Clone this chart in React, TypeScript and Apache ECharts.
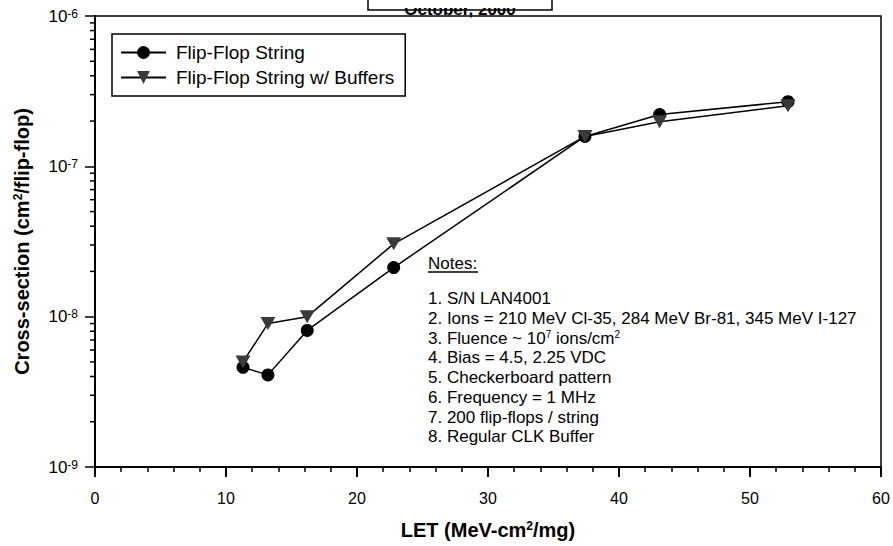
import React, { useEffect, useRef } from "react";
import * as echarts from "echarts";

// ---- data ----
const letValues = [11.3, 13.2, 16.2, 22.8, 37.4, 43.1, 52.9];
const ffString = [4.6e-9, 4.1e-9, 8.1e-9, 2.12e-8, 1.58e-7, 2.21e-7, 2.69e-7];
const ffBuffers = [5.0e-9, 9.0e-9, 1.0e-8, 3.05e-8, 1.58e-7, 1.98e-7, 2.53e-7];
const seriesNames = ["Flip-Flop String", "Flip-Flop String w/ Buffers"];
const xMin = 0;
const xMax = 60;
const xInterval = 10;
const yMin = 1e-9;
const yMax = 1e-6;
const yDecades = [1e-9, 1e-8, 1e-7];
const yMinorSteps = [2, 3, 4, 5, 6, 7, 8, 9];
const titleText = "October, 2000";
const notesTitle = "Notes:";
const notesLines = [
  "1. S/N LAN4001",
  "2. Ions = 210 MeV Cl-35, 284 MeV Br-81, 345 MeV I-127",
  "3. Fluence ~ 10{sup|7} ions/cm{sup|2}",
  "4. Bias = 4.5, 2.25 VDC",
  "5. Checkerboard pattern",
  "6. Frequency = 1 MHz",
  "7. 200 flip-flops / string",
  "8. Regular CLK Buffer",
];

const FONT = "'Liberation Sans', Arial, Helvetica, sans-serif";

export default function App() {
  const ref = useRef<HTMLDivElement>(null);

  useEffect(() => {
    if (!ref.current) return;
    const chart = echarts.init(ref.current, null, { renderer: "svg" });

    const yMinor: number[][] = [];
    yDecades.forEach((d) => yMinorSteps.forEach((m) => yMinor.push([0, d * m])));

    const option: any = {
      animation: false,
      backgroundColor: "#fff",
      textStyle: { fontFamily: FONT },
      grid: {
        left: 95,
        right: 12,
        top: 16,
        bottom: 79,
        show: true,
        borderColor: "#000",
        borderWidth: 1.5,
        backgroundColor: "transparent",
      },
      legend: {
        data: seriesNames,
        orient: "vertical",
        left: 112,
        top: 34,
        padding: [9, 11, 9, 8],
        itemGap: 6,
        itemWidth: 45,
        itemHeight: 16,
        borderColor: "#000",
        borderWidth: 1.5,
        backgroundColor: "#fff",
        textStyle: { fontSize: 19, color: "#000", fontFamily: FONT, padding: [0, 0, 0, 5] },
      },
      xAxis: {
        type: "value",
        min: xMin,
        max: xMax,
        interval: xInterval,
        name: "LET (MeV-cm{sup|2}/mg)",
        nameLocation: "middle",
        nameGap: 53,
        nameTextStyle: {
          fontSize: 20,
          fontWeight: "bold",
          color: "#000",
          fontFamily: FONT,
          rich: {
            sup: { fontSize: 12, fontWeight: "bold", verticalAlign: "top", lineHeight: 12, fontFamily: FONT },
          },
        },
        axisLine: { show: true, onZero: false, lineStyle: { color: "#000", width: 2 } },
        axisTick: { show: true, length: 10, lineStyle: { color: "#000", width: 2 } },
        minorTick: { show: true, splitNumber: 5, length: 5, lineStyle: { color: "#000", width: 1.5 } },
        splitLine: { show: false },
        minorSplitLine: { show: false },
        axisLabel: { fontSize: 16, color: "#000", margin: 23, fontFamily: FONT },
      },
      yAxis: {
        type: "log",
        logBase: 10,
        min: yMin,
        max: yMax,
        name: "Cross-section (cm{sup|2}/flip-flop)",
        nameLocation: "middle",
        nameGap: 63,
        nameTextStyle: {
          fontSize: 20,
          fontWeight: "bold",
          color: "#000",
          fontFamily: FONT,
          rich: {
            sup: { fontSize: 12, fontWeight: "bold", verticalAlign: "top", lineHeight: 12, fontFamily: FONT },
          },
        },
        axisLine: { show: true, lineStyle: { color: "#000", width: 2 } },
        axisTick: { show: true, length: 10, lineStyle: { color: "#000", width: 1.5 } },
        splitLine: { show: false },
        axisLabel: {
          color: "#000",
          margin: 17,
          fontSize: 17,
          fontFamily: FONT,
          formatter: (v: number) => `10{sup|${Math.round(Math.log10(v))}}`,
          rich: {
            sup: { fontSize: 12, verticalAlign: "top", lineHeight: 12, fontFamily: FONT, color: "#000" },
          },
        },
      },
      series: [
        {
          type: "custom",
          silent: true,
          clip: false,
          z: 5,
          data: yMinor,
          renderItem: (_p: any, api: any) => {
            const pt = api.coord([api.value(0), api.value(1)]);
            return {
              type: "line",
              shape: { x1: pt[0] - 5, y1: pt[1], x2: pt[0], y2: pt[1] },
              style: { stroke: "#000", lineWidth: 1.5 },
            };
          },
        },
        {
          name: seriesNames[0],
          type: "line",
          data: letValues.map((x, i) => [x, ffString[i]]),
          symbol: "circle",
          symbolSize: 13,
          z: 3,
          itemStyle: { color: "#000" },
          lineStyle: { color: "#000", width: 1.5 },
        },
        {
          name: seriesNames[1],
          type: "line",
          data: letValues.map((x, i) => [x, ffBuffers[i]]),
          symbol: "path://M0,0L16,0L8,14Z",
          symbolSize: [15, 13],
          z: 4,
          itemStyle: { color: "#3a3a3a" },
          lineStyle: { color: "#000", width: 1.5 },
        },
      ],
      graphic: [
        {
          type: "text",
          x: 460,
          y: 18,
          z: 1,
          style: {
            text: titleText,
            fontSize: 17,
            fontWeight: "bold",
            fontFamily: FONT,
            fill: "#000",
            align: "center",
            verticalAlign: "bottom",
          },
        },
        {
          type: "rect",
          z: 2,
          shape: { x: 369, y: -2, width: 182, height: 10 },
          style: { fill: "#fff", stroke: null },
        },
        {
          type: "rect",
          z: 3,
          shape: { x: 368, y: -10, width: 184, height: 20 },
          style: { fill: "none", stroke: "#000", lineWidth: 1.5 },
        },
        {
          type: "text",
          x: 428,
          y: 263,
          style: {
            text: notesTitle,
            fontSize: 17,
            fontFamily: FONT,
            fill: "#000",
            verticalAlign: "middle",
          },
        },
        {
          type: "line",
          shape: { x1: 428, y1: 272, x2: 478, y2: 272 },
          style: { stroke: "#000", lineWidth: 1.3 },
        },
        {
          type: "text",
          x: 428,
          y: 289,
          style: {
            text: notesLines.join("\n"),
            fontSize: 17,
            lineHeight: 19.7,
            fontFamily: FONT,
            fill: "#000",
            verticalAlign: "top",
            rich: {
              sup: { fontSize: 10, lineHeight: 10, verticalAlign: "top", fontFamily: FONT, fill: "#000", padding: [1, 0, 0, 0] },
            },
          },
        },
      ],
    };

    chart.setOption(option);
    return () => chart.dispose();
  }, []);

  return (
    <div
      ref={ref}
      style={{ position: "absolute", left: 0, top: 0, width: 893, height: 546, background: "#fff" }}
    />
  );
}
